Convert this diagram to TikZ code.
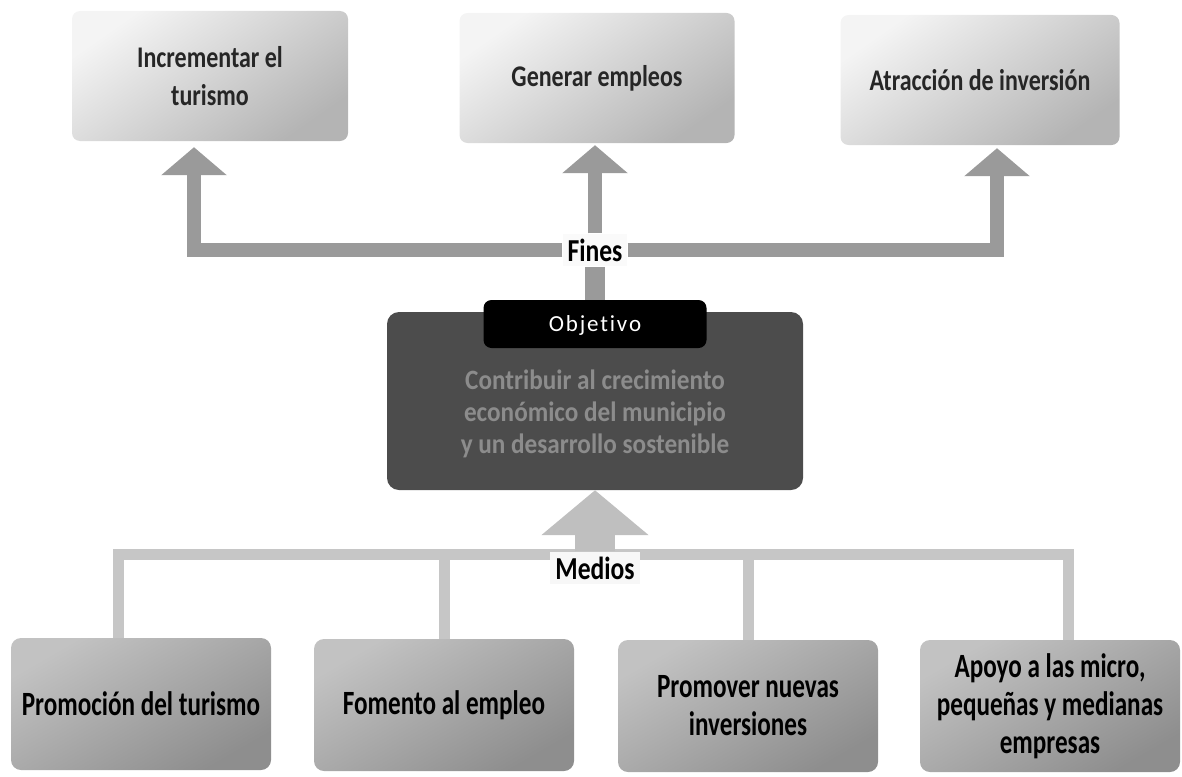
\documentclass[tikz,border=0pt]{standalone}
\usepackage{fontspec}
\setmainfont{Carlito}
\newfontfamily\condA[FakeStretch=0.80]{Carlito}
\newfontfamily\condB[FakeStretch=0.74]{Carlito}
\newfontfamily\condC[FakeStretch=0.90]{Carlito}
\newfontfamily\tabfont[LetterSpace=8,Ligatures=NoCommon]{Carlito}
\usetikzlibrary{arrows.meta,calc}
\definecolor{topA}{HTML}{F4F4F4}
\definecolor{topB}{HTML}{B4B4B4}
\definecolor{botA}{HTML}{C2C2C2}
\definecolor{botB}{HTML}{8E8E8E}
\definecolor{objfill}{HTML}{4C4C4C}
\definecolor{objtext}{HTML}{8C8C8C}
\definecolor{fineline}{HTML}{9A9A9A}
\definecolor{medline}{HTML}{C6C6C6}
\tikzset{
  topbox/.style={rounded corners=8pt, minimum width=274pt, minimum height=130pt, align=center,
    font=\condA\bfseries\fontsize{30}{38}\selectfont, text=black!85,
    top color=topA, bottom color=topB, shading angle=35},
  botbox/.style={rounded corners=10pt, minimum width=260pt, minimum height=132pt, align=center,
    font=\condB\bfseries\fontsize{34}{38}\selectfont, text=black,
    top color=botA, bottom color=botB, shading angle=30},
  finesarrow/.style={draw=fineline, line width=14pt,
    -{Triangle[length=28pt,width=64pt]}},
  medline/.style={draw=medline, line width=11pt},
  lbl/.style={fill=white!96!gray, font=\condA\bfseries\fontsize{32}{34}\selectfont, inner sep=5pt}
}
\begin{document}
\begin{tikzpicture}[x=1pt,y=-1pt]
\useasboundingbox (0,0) rectangle (1182,776);
% top boxes
\node[topbox, minimum width=276pt] (t1) at (210,76) {Incrementar el\\turismo};
\node[topbox, minimum width=275pt] (t2) at (597,78) {Generar empleos};
\node[topbox, minimum width=279pt] (t3) at (980,80) {Atracción de inversión};
% objective
\node[rounded corners=12pt, fill=objfill, minimum width=416pt, minimum height=178pt] (obj) at (595,401) {};
\node[text=objtext, font=\condC\bfseries\fontsize{28}{32}\selectfont, align=center] (objt) at (595,414)
  {Contribuir al crecimiento\\económico del municipio\\y un desarrollo sostenible};
\node[rounded corners=8pt, fill=black, text=white, minimum width=223pt, minimum height=48pt,
  font=\tabfont\fontsize{23}{26}\selectfont, text depth=0pt] (tab) at (595,324) {Objetivo};
% fines connectors
\node[lbl] (fines) at (595,250) {Fines};
\coordinate (a1) at ($(t1.south -| 194,0) + (0,6)$);
\coordinate (a2) at ($(t2.south) + (0,2)$);
\coordinate (a3) at ($(t3.south -| 997,0) + (0,3)$);
\draw[draw=fineline, line width=20pt] (tab.north) -- (fines.south);
\draw[finesarrow] (fines.west) -| (a1);
\draw[finesarrow] (fines.east) -| (a3);
\draw[finesarrow] (fines.north) -- (fines.north |- a2);
% bottom boxes
\node[botbox] (b1) at (141,704) {Promoción del turismo};
\node[botbox] (b2) at (444,705) {Fomento al empleo};
\node[botbox] (b3) at (748,706) {Promover nuevas\\inversiones};
\node[botbox] (b4) at (1050,706) {Apoyo a las micro,\\pequeñas y medianas\\empresas};
% medios connectors
\coordinate (hl) at (118,554);
\coordinate (hr) at (1068,554);
\draw[medline] (hl) -- (hr);
\draw[medline] (hl |- 0,549) -- (b1.north -| hl);
\draw[medline] (b2.north |- 0,549) -- (b2.north);
\draw[medline] (b3.north |- 0,549) -- (b3.north);
\draw[medline] (hr |- 0,549) -- (b4.north -| hr);
\node[lbl, fill=white!94!gray] (medios) at (595,568) {Medios};
\draw[draw=medline!90!gray, line width=40pt, -{Triangle[length=45pt,width=105pt]}] (medios.north) -- (obj.south);
\end{tikzpicture}
\end{document}
